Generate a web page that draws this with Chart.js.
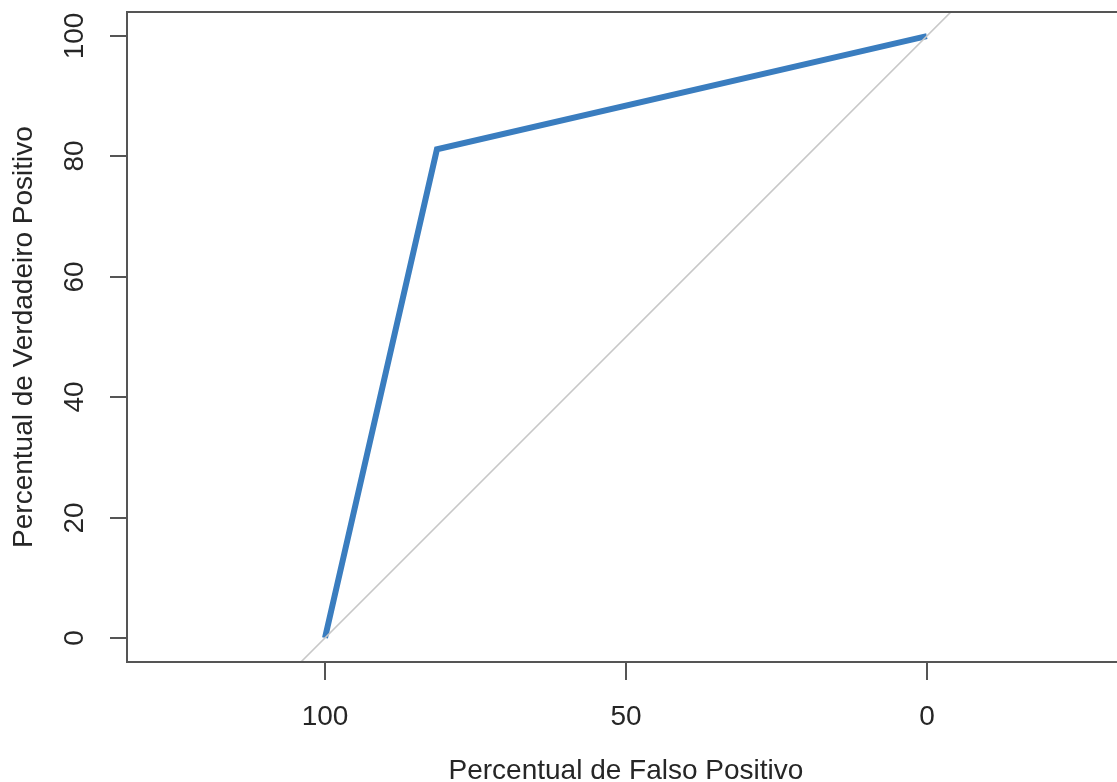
<!DOCTYPE html>
<html>
<head>
<meta charset="utf-8">
<script src="https://cdn.jsdelivr.net/npm/chart.js@4/dist/chart.umd.min.js"></script>
<style>
  html, body { margin: 0; padding: 0; background: #fff; overflow: hidden; }
</style>
</head>
<body>
<canvas id="roc" width="1117" height="782"></canvas>
<script>
// ROC curve (axes in percent, x axis reversed like pROC)
const falsePos = [100, 81.4, 0];
const truePos = [0, 81.2, 100];
const diagX = [140, -40];
const diagY = [-40, 140];
const xTicks = [100, 50, 0];
const yTicks = [0, 20, 40, 60, 80, 100];
const xTitle = 'Percentual de Falso Positivo';
const yTitle = 'Percentual de Verdadeiro Positivo';

const axisColor = '#555';
const textColor = '#262626';
const font = '28px "Liberation Sans", Arial, sans-serif';

// frame, ticks and labels drawn R-style
const rAxes = {
  id: 'rAxes',
  afterDraw(chart) {
    const { ctx, chartArea: a, scales } = chart;
    const x = scales.x, y = scales.y;
    ctx.save();
    ctx.strokeStyle = axisColor;
    ctx.lineWidth = 2;
    ctx.beginPath();
    ctx.moveTo(a.right + 5, a.top);
    ctx.lineTo(a.left, a.top);
    ctx.lineTo(a.left, a.bottom);
    ctx.lineTo(a.right + 5, a.bottom);
    ctx.stroke();

    ctx.fillStyle = textColor;
    ctx.font = font;
    ctx.textAlign = 'center';
    ctx.textBaseline = 'middle';

    xTicks.forEach(v => {
      const px = Math.round(x.getPixelForValue(v));
      ctx.beginPath();
      ctx.moveTo(px, a.bottom);
      ctx.lineTo(px, a.bottom + 18);
      ctx.stroke();
      ctx.fillText(String(v), px, a.bottom + 55);
    });

    yTicks.forEach(v => {
      const py = Math.round(y.getPixelForValue(v));
      ctx.beginPath();
      ctx.moveTo(a.left, py);
      ctx.lineTo(a.left - 17, py);
      ctx.stroke();
      ctx.save();
      ctx.translate(a.left - 52, py);
      ctx.rotate(-Math.PI / 2);
      ctx.fillText(String(v), 0, 0);
      ctx.restore();
    });

    ctx.fillText(xTitle, x.getPixelForValue(50), a.bottom + 109);
    ctx.save();
    ctx.translate(24, y.getPixelForValue(50));
    ctx.rotate(-Math.PI / 2);
    ctx.fillText(yTitle, 0, 0);
    ctx.restore();
    ctx.restore();
  }
};

new Chart(document.getElementById('roc'), {
  type: 'line',
  data: {
    datasets: [
      {
        data: diagX.map((v, i) => ({ x: v, y: diagY[i] })),
        borderColor: '#c8c8c8',
        borderWidth: 1.6,
        pointRadius: 0,
        tension: 0
      },
      {
        data: falsePos.map((v, i) => ({ x: v, y: truePos[i] })),
        borderColor: '#3a7dbf',
        borderWidth: 6,
        pointRadius: 0,
        borderJoinStyle: 'miter',
        tension: 0
      }
    ]
  },
  options: {
    responsive: false,
    animation: false,
    layout: { padding: { left: 127, top: 12, right: 0, bottom: 120 } },
    plugins: { legend: { display: false }, tooltip: { enabled: false } },
    scales: {
      x: { type: 'linear', reverse: true, min: -31.6, max: 132.9, display: false },
      y: { type: 'linear', min: -4, max: 104, display: false }
    }
  },
  plugins: [rAxes]
});
</script>
</body>
</html>
